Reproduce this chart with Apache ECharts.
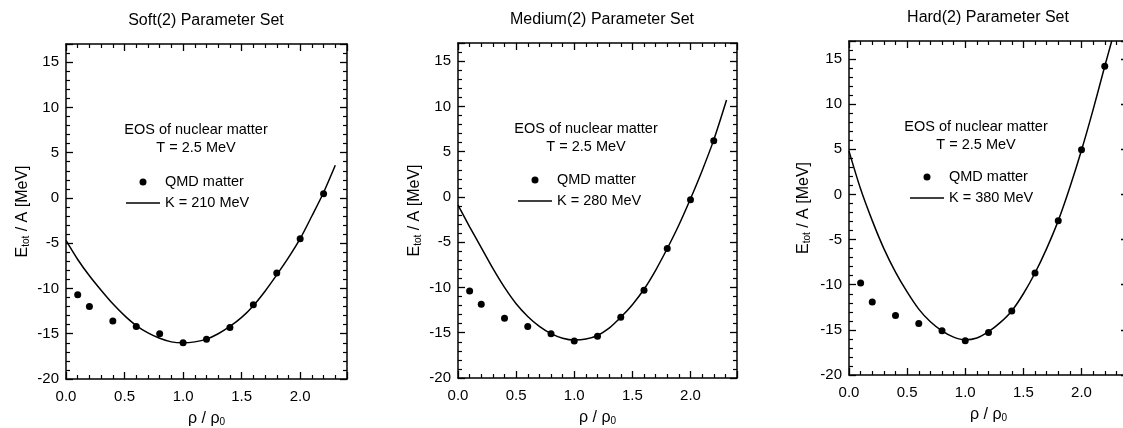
<!DOCTYPE html>
<html>
<head>
<meta charset="utf-8">
<script src="https://cdn.jsdelivr.net/npm/echarts@6/dist/echarts.min.js"></script>
<style>
  html, body { margin: 0; padding: 0; background: #fff; }
  #chart { width: 1123px; height: 428px; }
</style>
</head>
<body>
<div id="chart"></div>
<script>
// Densities (rho / rho0) of the QMD matter runs
const qmdRho = [0.1, 0.2, 0.4, 0.6, 0.8, 1.0, 1.2, 1.4, 1.6, 1.8, 2.0, 2.2];
// E_tot / A [MeV] of QMD matter for each parameter set
const qmdSoft   = [-10.7, -12.0, -13.6, -14.2, -15.0, -16.0, -15.6, -14.3, -11.8, -8.3, -4.5, 0.45];
const qmdMedium = [-10.4, -11.85, -13.4, -14.3, -15.1, -15.9, -15.4, -13.3, -10.3, -5.7, -0.3, 6.2];
const qmdHard   = [-9.8, -11.9, -13.4, -14.3, -15.1, -16.2, -15.3, -12.9, -8.7, -2.9, 4.95, 14.2];

// Sampled EOS curves (rho / rho0 from 0.0 to 2.2 in steps of 0.1)
const curveRho = [0.0, 0.1, 0.2, 0.3, 0.4, 0.5, 0.6, 0.7, 0.8, 0.9, 1.0, 1.1,
                  1.2, 1.3, 1.4, 1.5, 1.6, 1.7, 1.8, 1.9, 2.0, 2.1, 2.2];
const curveSoft   = [-4.7, -6.8, -8.6, -10.2, -11.7, -13.0, -14.1, -14.9, -15.5, -15.9, -16.0, -15.9,
                     -15.6, -15.0, -14.2, -13.2, -11.9, -10.3, -8.5, -6.6, -4.5, -2.0, 0.6];
const curveMedium = [-0.9, -3.3, -5.6, -7.9, -10.0, -11.8, -13.2, -14.3, -15.1, -15.6, -15.8, -15.7,
                     -15.3, -14.5, -13.3, -11.9, -10.2, -8.1, -5.7, -3.1, -0.2, 2.9, 6.3];
const curveHard   = [4.8, 0.6, -2.9, -6.0, -8.6, -10.8, -12.7, -14.1, -15.1, -15.8, -16.1, -15.9,
                     -15.2, -14.2, -12.9, -11.0, -8.7, -6.0, -2.9, 0.8, 4.9, 9.4, 14.2];
// Last point of each curve [rho / rho0, E_tot / A]
const curveEnd = [[2.3, 3.6], [2.31, 10.7], [2.26, 17.0]];

const panelTitles = ['Soft(2) Parameter Set', 'Medium(2) Parameter Set', 'Hard(2) Parameter Set'];
const curveNames = ['K = 210 MeV', 'K = 280 MeV', 'K = 380 MeV'];
const pointName = 'QMD matter';
const noteLines = ['EOS of nuclear matter', 'T = 2.5 MeV'];
const xRange = { min: 0, max: 2.4, interval: 0.5 };
const yRange = { min: -20, max: 17, interval: 5 };

const qmdSets = [qmdSoft, qmdMedium, qmdHard];
const curveSets = [curveSoft, curveMedium, curveHard];

const FONT = '"Liberation Sans", Arial, Helvetica, sans-serif';
const INK = '#000';
// Legend key for the curves: a plain horizontal stroke
const LINE_KEY = 'path://M0 0H34V1.6H0Z';

// Plot frames and text placement of the three panels
const layout = [
  { left: 66,  top: 44, width: 281, height: 335, title: [206, 21], note: [196, 130], legend: [126, 174], nameGap: 35 },
  { left: 458, top: 43, width: 279, height: 335, title: [602, 20], note: [586, 129], legend: [518, 172], nameGap: 35 },
  { left: 849, top: 41, width: 279, height: 334, title: [988, 18], note: [976, 127], legend: [910, 169], nameGap: 37 }
];

const axisLine = { onZero: false, lineStyle: { color: INK, width: 1.5 } };
const axisTick = { inside: true, length: 7, lineStyle: { color: INK, width: 1.3 } };
const minorTick = { show: true, splitNumber: 5, length: 4, lineStyle: { color: INK, width: 1.2 } };

const grids = [], xAxes = [], yAxes = [], series = [], legends = [], graphics = [];

layout.forEach((p, i) => {
  grids.push({ left: p.left, top: p.top, width: p.width, height: p.height,
               containLabel: false, outerBoundsMode: 'none' });

  const xBase = { type: 'value', gridIndex: i, min: xRange.min, max: xRange.max, interval: xRange.interval,
                  axisLine, axisTick, minorTick, splitLine: { show: false }, minorSplitLine: { show: false } };
  const yBase = { type: 'value', gridIndex: i, min: yRange.min, max: yRange.max, interval: yRange.interval,
                  axisLine, axisTick, minorTick, splitLine: { show: false }, minorSplitLine: { show: false } };

  xAxes.push(Object.assign({}, xBase, {
    position: 'bottom',
    axisLabel: { margin: 10, color: INK, fontSize: 15, fontFamily: FONT, showMaxLabel: false,
                 formatter: v => v.toFixed(1) },
    name: '{r|ρ / ρ}{s|0}',
    nameLocation: 'middle',
    nameGap: 31,
    nameTextStyle: {
      color: INK, fontFamily: FONT,
      rich: { r: { fontSize: 16, fontFamily: FONT, color: INK },
              s: { fontSize: 10, fontFamily: FONT, color: INK, padding: [7, 0, 0, 0] } }
    }
  }));
  xAxes.push(Object.assign({}, xBase, { position: 'top', axisLabel: { show: false } }));

  yAxes.push(Object.assign({}, yBase, {
    position: 'left',
    axisLabel: { margin: 7, color: INK, fontSize: 15, fontFamily: FONT, showMaxLabel: false },
    name: '{e|E}{s|tot}{e| / A [MeV]}',
    nameLocation: 'middle',
    nameRotate: 90,
    nameGap: p.nameGap,
    nameTextStyle: {
      color: INK, fontFamily: FONT,
      rich: { e: { fontSize: 16, fontFamily: FONT, color: INK },
              s: { fontSize: 10, fontFamily: FONT, color: INK, padding: [7, 0, 0, 0] } }
    }
  }));
  yAxes.push(Object.assign({}, yBase, { position: 'right', axisLabel: { show: false } }));

  series.push({
    type: 'scatter', name: pointName, xAxisIndex: 2 * i, yAxisIndex: 2 * i,
    data: qmdRho.map((r, k) => [r, qmdSets[i][k]]),
    symbol: 'circle', symbolSize: 7, itemStyle: { color: INK, opacity: 1 }, silent: true, z: 3
  });
  series.push({
    type: 'line', name: curveNames[i], xAxisIndex: 2 * i, yAxisIndex: 2 * i,
    data: curveRho.map((r, k) => [r, curveSets[i][k]]).concat([curveEnd[i]]),
    symbol: 'none', showSymbol: false, smooth: 0.3, clip: true,
    lineStyle: { color: INK, width: 1.5 }, itemStyle: { color: INK }, silent: true, z: 2
  });

  legends.push({
    orient: 'vertical', left: p.legend[0], top: p.legend[1], padding: 0,
    itemWidth: 34, itemHeight: 7, itemGap: 5, selectedMode: false,
    data: [{ name: pointName, icon: 'circle', itemStyle: { color: INK, opacity: 1 } },
           { name: curveNames[i], icon: LINE_KEY, itemStyle: { color: INK } }],
    textStyle: { color: INK, fontSize: 14.5, fontFamily: FONT, lineHeight: 16 }
  });

  graphics.push({
    type: 'text', x: p.title[0], y: p.title[1], silent: true,
    style: { text: panelTitles[i], fill: INK, font: '16px ' + FONT, align: 'center', verticalAlign: 'middle' }
  });
  noteLines.forEach((line, k) => {
    graphics.push({
      type: 'text', x: p.note[0], y: p.note[1] + k * 18, silent: true,
      style: { text: line, fill: INK, font: '14.5px ' + FONT, align: 'center', verticalAlign: 'middle' }
    });
  });
});

const chart = echarts.init(document.getElementById('chart'), null, { renderer: 'canvas' });
chart.setOption({
  backgroundColor: '#fff',
  animation: false,
  grid: grids,
  xAxis: xAxes,
  yAxis: yAxes,
  legend: legends,
  series: series,
  graphic: graphics
});
</script>
</body>
</html>
